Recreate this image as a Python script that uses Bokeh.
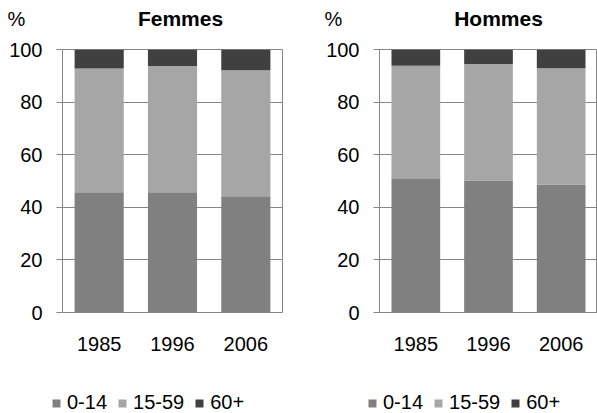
from bokeh.plotting import figure
from bokeh.layouts import row, column
from bokeh.models import Legend, LegendItem, Label, ColumnDataSource, FixedTicker, Range1d
from bokeh.embed import file_html
from bokeh.resources import INLINE

years = ["1985", "1996", "2006"]
groups = ["0-14", "15-59", "60+"]
colors = ["#808080", "#a6a6a6", "#404040"]
titles = ["Femmes", "Hommes"]
unit = "%"

femmes_0_14 = [45.7, 45.7, 44.2]
femmes_15_59 = [47.1, 48.0, 47.9]
femmes_60 = [7.2, 6.3, 7.9]

hommes_0_14 = [50.8, 50.2, 48.7]
hommes_15_59 = [43.0, 44.3, 44.2]
hommes_60 = [6.2, 5.5, 7.1]

y_ticks = [0, 20, 40, 60, 80, 100]

FONT = "Liberation Sans"
GRID = "#868686"
W1, W2 = 305, 292


def make_source(series):
    return ColumnDataSource(data={"years": years, groups[0]: series[0],
                                  groups[1]: series[1], groups[2]: series[2]})


def bare(width, height):
    f = figure(width=width, height=height, x_range=years,
               y_range=Range1d(0, 100), output_backend="svg",
               toolbar_location=None, x_axis_location=None, y_axis_location=None,
               min_border=0)
    f.grid.grid_line_color = None
    f.outline_line_color = None
    return f


def make_panel(src, width, border_left, border_right):
    p = figure(x_range=years, y_range=Range1d(0, 100), width=width, height=345,
               output_backend="svg", toolbar_location=None,
               min_border_left=border_left, min_border_right=border_right,
               min_border_top=19, min_border_bottom=63)
    p.vbar_stack(groups, x="years", width=0.67, color=colors, line_color=None,
                 source=src)
    p.xgrid.grid_line_color = None
    p.ygrid.grid_line_color = GRID
    p.ygrid.ticker = FixedTicker(ticks=y_ticks)
    p.yaxis.ticker = FixedTicker(ticks=y_ticks)
    p.outline_line_color = GRID
    for ax in (p.xaxis[0], p.yaxis[0]):
        ax.axis_line_color = GRID
        ax.major_tick_line_color = GRID
        ax.minor_tick_line_color = None
        ax.major_label_text_font = FONT
        ax.major_label_text_font_size = "20px"
        ax.major_label_text_color = "#000000"
    p.yaxis.major_tick_out = 6
    p.yaxis.major_tick_in = 0
    p.yaxis.major_label_standoff = 14
    p.xaxis.major_tick_out = 0
    p.xaxis.major_tick_in = 0
    p.xaxis.major_label_standoff = 24
    return p


src_f = make_source([femmes_0_14, femmes_15_59, femmes_60])
src_h = make_source([hommes_0_14, hommes_15_59, hommes_60])

# title strip
top = bare(W1 + W2, 30)
for x_title, x_unit, t in [(180, 16, titles[0]), (498, 333, titles[1])]:
    top.add_layout(Label(x=x_title, y=12, x_units="screen", y_units="screen", text=t,
                         text_font=FONT, text_font_size="21px", text_font_style="bold",
                         text_align="center", text_baseline="middle",
                         text_color="#000000"))
    top.add_layout(Label(x=x_unit, y=12, x_units="screen", y_units="screen", text=unit,
                         text_font=FONT, text_font_size="20px",
                         text_align="center", text_baseline="middle",
                         text_color="#000000"))

p1 = make_panel(src_f, W1, 62, 23)
p2 = make_panel(src_h, W2, 74, 0)

# legend strip (hidden copies of the series give the legend its swatches)
bottom = bare(W1 + W2, 38)
for lx, src in ((51, src_f), (367, src_h)):
    rs = bottom.vbar_stack(groups, x="years", width=0.67, color=colors,
                           line_color=None, source=src)
    for r in rs:
        r.visible = False
    items = [LegendItem(label=g, renderers=[r]) for g, r in zip(groups, rs)]
    leg = Legend(items=items, location=(lx, -1), orientation="horizontal",
                 glyph_width=10, glyph_height=10, label_standoff=6, spacing=10,
                 padding=0, margin=0, border_line_color=None,
                 background_fill_alpha=0, inactive_fill_alpha=0,
                 label_text_font=FONT,
                 label_text_font_size="20px", label_text_color="#000000",
                 label_height=20)
    bottom.add_layout(leg, "center")

layout = column(top, row(p1, p2), bottom)
open("out.html", "w").write(file_html(layout, INLINE))
